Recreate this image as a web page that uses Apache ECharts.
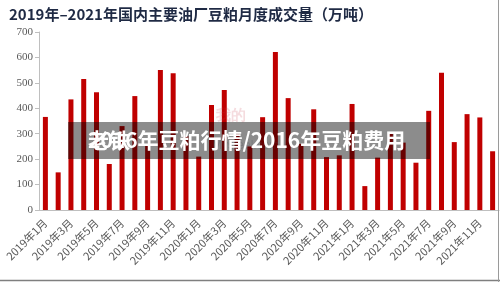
<!DOCTYPE html>
<html>
<head>
<meta charset="utf-8">
<script src="https://cdn.jsdelivr.net/npm/echarts@6/dist/echarts.min.js"></script>
<style>
  html, body { margin: 0; padding: 0; background: #fff; }
  #chart { width: 500px; height: 282px; }
</style>
</head>
<body>
<div id="chart"></div>
<script>
  // months 2019-01 .. 2021-12
  var months = [
    '2019年1月', '2019年2月', '2019年3月', '2019年4月', '2019年5月', '2019年6月',
    '2019年7月', '2019年8月', '2019年9月', '2019年10月', '2019年11月', '2019年12月',
    '2020年1月', '2020年2月', '2020年3月', '2020年4月', '2020年5月', '2020年6月',
    '2020年7月', '2020年8月', '2020年9月', '2020年10月', '2020年11月', '2020年12月',
    '2021年1月', '2021年2月', '2021年3月', '2021年4月', '2021年5月', '2021年6月',
    '2021年7月', '2021年8月', '2021年9月', '2021年10月', '2021年11月', '2021年12月'
  ]
  // 成交量 (万吨)
  var volume2019 = [366, 148, 435, 515, 463, 181, 330, 448, 260, 551, 538, 290]
  var volume2020 = [210, 413, 472, 300, 250, 365, 621, 440, 260, 396, 208, 215]
  var volume2021 = [417, 94, 206, 300, 265, 186, 390, 540, 267, 377, 364, 231]
  var volume = volume2019.concat(volume2020, volume2021)

  var titleText = '2019年–2021年国内主要油厂豆粕月度成交量（万吨）'
  var bannerText = '2016年豆粕行情/2016年豆粕费用'

  var chart = echarts.init(document.getElementById('chart'))
  chart.setOption({
    animation: false,
    title: {
      text: titleText,
      left: 4,
      top: 2,
      textStyle: {
        fontFamily: 'Noto Sans CJK SC',
        fontSize: 15,
        fontWeight: 'bold',
        color: '#1f2a44'
      }
    },
    grid: {
      left: 39,
      right: 1,
      top: 32,
      bottom: 72
    },
    xAxis: {
      type: 'category',
      data: months,
      axisLine: { lineStyle: { color: '#bfbfbf' } },
      axisTick: { interval: 1, length: 4, lineStyle: { color: '#bfbfbf' } },
      axisLabel: {
        interval: 1,
        rotate: 45,
        margin: 11,
        fontSize: 11,
        fontFamily: 'Noto Sans CJK SC',
        color: '#595959'
      }
    },
    yAxis: {
      type: 'value',
      min: 0,
      max: 700,
      interval: 100,
      axisLine: { show: true, lineStyle: { color: '#bfbfbf' } },
      axisTick: { show: true, length: 4, lineStyle: { color: '#bfbfbf' } },
      splitLine: { show: false },
      axisLabel: {
        margin: 6,
        fontSize: 11,
        fontFamily: 'Liberation Serif',
        color: '#595959'
      }
    },
    series: [{
      name: '成交量',
      type: 'bar',
      barWidth: 5,
      itemStyle: { color: '#c00000' },
      data: volume
    }],
    graphic: [
      // faint site watermark
      {
        type: 'text', left: 216, top: 108, z: 5,
        style: { text: '我的', fontSize: 15, fontWeight: 'bold', fill: 'rgba(200,60,80,0.18)' }
      },
      {
        type: 'text', left: 212, top: 140, z: 5,
        style: { text: 'Mysteel.com', fontSize: 12, fill: 'rgba(120,120,140,0.22)' }
      },
      // dark banner over the plot
      {
        type: 'rect', z: 10,
        shape: { x: 68, y: 122, width: 362, height: 37 },
        style: { fill: 'rgba(0,0,0,0.45)' }
      },
      {
        type: 'text', z: 11, x: 88, y: 140,
        style: {
          text: bannerText, fontSize: 21, fontWeight: 'bold',
          fontFamily: 'Noto Sans CJK SC', fill: '#fff', verticalAlign: 'middle'
        }
      },
      {
        type: 'text', z: 11, x: 88, y: 140,
        style: {
          text: '老铁', fontSize: 21, fontWeight: 'bold',
          fontFamily: 'Noto Sans CJK SC', fill: '#fff', verticalAlign: 'middle'
        }
      },
      // frame edges of the screenshot
      {
        type: 'line', z: 20,
        shape: { x1: 0, y1: 280.5, x2: 500, y2: 280.5 },
        style: { stroke: '#7f7f7f', lineWidth: 1.5 }
      },
      {
        type: 'line', z: 20,
        shape: { x1: 498.5, y1: 0, x2: 498.5, y2: 282 },
        style: { stroke: '#9a9a9a', lineWidth: 1 }
      }
    ]
  })
</script>
</body>
</html>
